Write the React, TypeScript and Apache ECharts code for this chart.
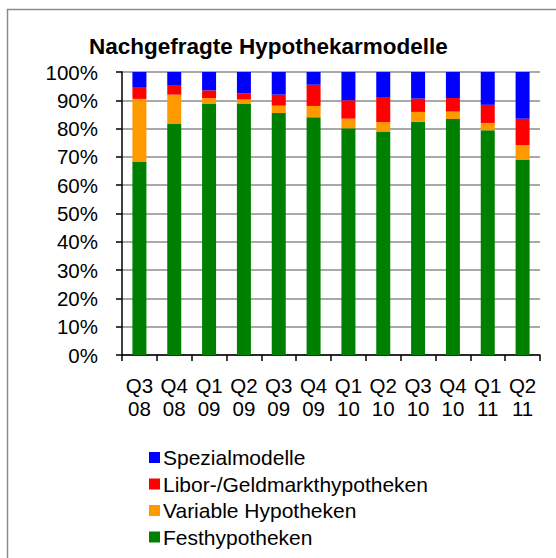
import React, { useEffect, useRef } from "react";
import * as echarts from "echarts";

const categories = ["Q3\n08", "Q4\n08", "Q1\n09", "Q2\n09", "Q3\n09", "Q4\n09", "Q1\n10", "Q2\n10", "Q3\n10", "Q4\n10", "Q1\n11", "Q2\n11"];
const festhypotheken = [68.4, 81.8, 88.9, 88.7, 85.5, 84.0, 80.1, 79.0, 82.4, 83.4, 79.4, 69.1];
const variable = [22.1, 10.2, 1.9, 1.6, 2.6, 4.0, 3.4, 3.3, 3.5, 2.6, 2.6, 5.1];
const libor = [4.2, 3.4, 2.7, 2.1, 3.9, 7.5, 6.5, 8.6, 4.7, 4.8, 6.4, 9.3];
const spezial = [5.3, 4.6, 6.5, 7.6, 8.0, 4.5, 10.0, 9.1, 9.4, 9.2, 11.6, 16.5];
const seriesNames = ["Festhypotheken", "Variable Hypotheken", "Libor-/Geldmarkthypotheken", "Spezialmodelle"];
const legendOrder = ["Spezialmodelle", "Libor-/Geldmarkthypotheken", "Variable Hypotheken", "Festhypotheken"];
const colors = ["#008000", "#FF9900", "#FF0000", "#0000FF"];
const seriesValues = [festhypotheken, variable, libor, spezial];

const FONT = "'Liberation Sans', Arial, sans-serif";

export default function App() {
  const ref = useRef<HTMLDivElement>(null);
  useEffect(() => {
    if (!ref.current) return;
    const chart = echarts.init(ref.current, null, { renderer: "svg" });
    chart.setOption({
      animation: false,
      backgroundColor: "#ffffff",
      title: {
        text: "Nachgefragte Hypothekarmodelle",
        left: 84,
        top: 30,
        textStyle: { fontFamily: FONT, fontSize: 22.5, fontWeight: "bold", color: "#000" },
      },
      graphic: [
        {
          type: "rect",
          shape: { x: 7.5, y: 9.5, width: 700, height: 700 },
          style: { fill: "none", stroke: "#8c8c8c", lineWidth: 1.5 },
          silent: true,
          z: -1,
        },
      ],
      legend: {
        orient: "vertical",
        left: 149,
        top: 447,
        height: 110,
        padding: 0,
        itemWidth: 11,
        itemHeight: 11,
        itemGap: 5.5,
        icon: "rect",
        data: legendOrder,
        textStyle: { fontFamily: FONT, fontSize: 21, color: "#000", padding: [0, 0, 0, -2] },
      },
      grid: { left: 122, top: 72, right: 16, bottom: 203 },
      xAxis: {
        type: "category",
        data: categories,
        axisLine: { lineStyle: { color: "#000", width: 1.5 } },
        axisTick: { show: true, length: 6, lineStyle: { color: "#000", width: 1.5 } },
        axisLabel: { fontFamily: FONT, fontSize: 20.5, color: "#000", lineHeight: 23, margin: 19, interval: 0 },
      },
      yAxis: {
        type: "value",
        min: 0,
        max: 100,
        interval: 10,
        axisLine: { show: true, lineStyle: { color: "#000", width: 1.5 } },
        axisTick: { show: true, length: 6, lineStyle: { color: "#000", width: 1.5 } },
        splitLine: { lineStyle: { color: "#8c8c8c", width: 1.5 } },
        axisLabel: { fontFamily: FONT, fontSize: 20.5, color: "#000", margin: 24, formatter: "{value}%" },
      },
      series: seriesNames.map((name, i) => ({
        name,
        type: "bar",
        stack: "total",
        barWidth: 14,
        data: seriesValues[i],
        itemStyle: { color: colors[i] },
      })),
    });
    return () => chart.dispose();
  }, []);
  return (
    <div
      ref={ref}
      style={{ position: "fixed", left: 0, top: 0, width: 556, height: 558, background: "#fff" }}
    />
  );
}
